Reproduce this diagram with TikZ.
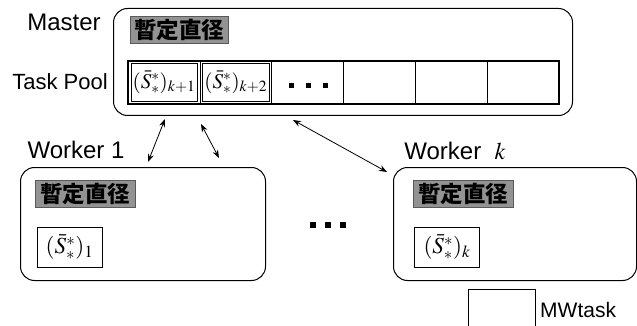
\documentclass[tikz,border=0pt]{standalone}
\usepackage{mathptmx}
\usepackage{fontspec}
\setmainfont{Liberation Sans}
\newfontfamily\cjkfont{Noto Sans CJK JP}
\usetikzlibrary{arrows.meta}
\tikzset{
  bigbox/.style={draw=black, line width=1pt, rounded corners=14pt, anchor=north west, inner sep=0pt},
  graylabel/.style={draw=gray!70!black, fill=gray!85, minimum width=98pt, minimum height=27pt, inner sep=0pt, font=\fontsize{22.5}{22.5}\selectfont\cjkfont\bfseries, text=black},
  cell/.style={draw=black, line width=0.6pt, minimum width=71.8pt, minimum height=43pt, inner sep=0pt, font=\fontsize{21}{21}\selectfont},
  sbox/.style={draw=black, line width=0.7pt, minimum width=65pt, minimum height=40pt, inner sep=0pt, font=\fontsize{23}{23}\selectfont},
  ttl/.style={font=\fontsize{24}{24}\selectfont, inner sep=0pt},
  dot/.style={fill=black, minimum size=5pt, inner sep=0pt},
  biarrow/.style={{Stealth[length=8pt,width=6pt]}-{Stealth[length=8pt,width=6pt]}, line width=0.8pt}
}
\begin{document}
\begin{tikzpicture}[x=1pt,y=-1pt]
\path[use as bounding box, clip] (0,0) rectangle (637,326);
\fill[white] (0,0) rectangle (637,326);
% Master
\node[bigbox, minimum width=459pt, minimum height=107pt] (master) at (113,8) {};
\node[ttl, anchor=base] (mastertxt) at (64,31) {Master};
\node[graylabel] (mlabel) at (179,30) {暫定直径};
\node[ttl, anchor=base, font=\fontsize{22}{22}\selectfont] (pooltxt) at (60,90) {Task Pool};
% pool cells
\node[cell] (c1) at (164,82.5) {$(\bar{S}^{*}_{*})_{k+1}$};
\node[cell] (c2) at (235.8,82.5) {$(\bar{S}^{*}_{*})_{k+2}$};
\node[cell] (c3) at (307.6,82.5) {};
\node[cell] (c4) at (379.4,82.5) {};
\node[cell] (c5) at (451.2,82.5) {};
\node[cell] (c6) at (523,82.5) {};
\draw[line width=0.6pt] ([shift={(3,3)}]c1.north west) rectangle ([shift={(-3,-3)}]c1.south east);
\draw[line width=0.6pt] ([shift={(3,3)}]c2.north west) rectangle ([shift={(-3,-3)}]c2.south east);
\draw[line width=1.6pt] (c1.north west) rectangle (c6.south east);
\node[dot] (p1) at (291,86) {};
\node[dot] (p2) at (308,86) {};
\node[dot] (p3) at (325,86) {};
% Worker 1
\node[bigbox, minimum width=245pt, minimum height=113pt] (w1) at (20,167) {};
\node[ttl, anchor=base] (w1txt) at (76,158) {Worker 1};
\node[graylabel, minimum width=100pt] (w1label) at (85,194) {暫定直径};
\node[sbox] (w1s) at (69.5,247) {$(\bar{S}^{*}_{*})_{1}$};
% Worker k
\node[bigbox, minimum width=243pt, minimum height=113pt] (wk) at (393,167) {};
\node[ttl, anchor=base] (wktxt) at (455,160) {Worker\ \ $k$};
\node[graylabel, minimum width=100pt] (wklabel) at (463,194) {暫定直径};
\node[sbox] (wks) at (447,247) {$(\bar{S}^{*}_{*})_{k}$};
% middle dots
\node[dot, minimum size=6pt] (m1) at (313,225) {};
\node[dot, minimum size=6pt] (m2) at (328,225) {};
\node[dot, minimum size=6pt] (m3) at (343,225) {};
% arrows
\coordinate (a1m) at (165,119);
\coordinate (a1w) at (148,162);
\coordinate (a2m) at (201,124);
\coordinate (a2w) at (219,158);
\coordinate (a3m) at (293,120);
\coordinate (a3w) at (387,172);
\draw[biarrow] (a1m) -- (a1w);
\draw[biarrow] (a2m) -- (a2w);
\draw[biarrow] (a3m) -- (a3w);
% legend
\node[draw=black, line width=0.7pt, anchor=north west, minimum width=67pt, minimum height=60pt, inner sep=0pt] (legbox) at (468,289) {};
\node[ttl, anchor=base west, font=\fontsize{21}{21}\selectfont] (legtxt) at (540,317) {MWtask};
\end{tikzpicture}
\end{document}
